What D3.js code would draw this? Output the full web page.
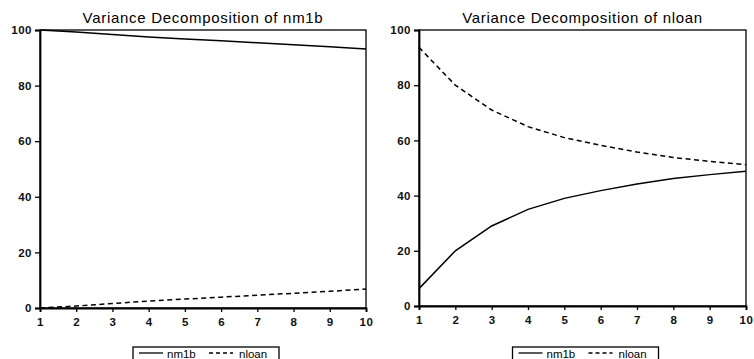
<!DOCTYPE html>
<html>
<head>
<meta charset="utf-8">
<script src="https://cdn.jsdelivr.net/npm/d3@7"></script>
<style>
  body { margin: 0; background: #fff; }
  svg { display: block; font-family: "Liberation Sans", Arial, sans-serif; }
</style>
</head>
<body>
<div id="chart"></div>
<script>
// forecast horizons
const periods = [1, 2, 3, 4, 5, 6, 7, 8, 9, 10];
const yTicks = [0, 20, 40, 60, 80, 100];
const seriesNames = ["nm1b", "nloan"];

// variance decomposition of nm1b
const nm1bByNm1b = [100, 99.3, 98.4, 97.5, 96.8, 96.1, 95.4, 94.7, 94.0, 93.2];
const nm1bByNloan = [0, 0.7, 1.6, 2.5, 3.2, 3.9, 4.6, 5.3, 6.0, 6.8];

// variance decomposition of nloan
const nloanByNm1b = [6.3, 20.0, 29.0, 35.0, 39.0, 41.8, 44.2, 46.2, 47.6, 48.8];
const nloanByNloan = [93.7, 80.0, 71.0, 65.0, 61.0, 58.2, 55.8, 53.8, 52.4, 51.2];

const panels = [
    { title: "Variance Decomposition of nm1b", left: 40, right: 366, top: 30, bottom: 308,
      series: [nm1bByNm1b, nm1bByNloan] },
    { title: "Variance Decomposition of nloan", left: 419, right: 746, top: 30, bottom: 306,
      series: [nloanByNm1b, nloanByNloan] }
];
const dashes = [null, "5,3.5"];

const svg = d3.select("#chart").append("svg")
    .attr("width", 754)
    .attr("height", 359);

panels.forEach(p => {
    const x = d3.scaleLinear().domain([1, 10]).range([p.left, p.right]);
    const y = d3.scaleLinear().domain([0, 100]).range([p.bottom, p.top]);
    const g = svg.append("g");

    // title
    g.append("text")
        .attr("x", (p.left + p.right) / 2)
        .attr("y", 23)
        .attr("text-anchor", "middle")
        .style("font-size", "15px")
        .style("letter-spacing", "0.7px")
        .text(p.title);

    // frame (top and right)
    g.append("rect")
        .attr("x", p.left).attr("y", p.top)
        .attr("width", p.right - p.left).attr("height", p.bottom - p.top)
        .attr("fill", "none").attr("stroke", "#000").attr("stroke-width", 1.3);

    // y axis
    const yAxis = g.append("g")
        .attr("transform", `translate(${p.left},0)`)
        .call(d3.axisLeft(y).tickValues(yTicks).tickSize(5).tickPadding(3));
    // x axis
    const xAxis = g.append("g")
        .attr("transform", `translate(0,${p.bottom})`)
        .call(d3.axisBottom(x).tickValues(periods).tickSize(4).tickPadding(6));

    [yAxis, xAxis].forEach(a => {
        a.select(".domain").attr("stroke-width", 1.8);
        a.selectAll(".tick line").attr("stroke-width", 1.3);
        a.selectAll("text")
            .style("font-size", "11.5px")
            .style("font-weight", "bold")
            .style("letter-spacing", "0.5px")
            .attr("fill", "#111")
            .style("font-family", "'Liberation Sans', Arial, sans-serif");
    });

    // lines
    const line = d3.line()
        .x((d, i) => x(periods[i]))
        .y(d => y(d));
    p.series.forEach((s, i) => {
        g.append("path")
            .datum(s)
            .attr("d", line)
            .attr("fill", "none")
            .attr("stroke", "#000")
            .attr("stroke-width", 1.5)
            .attr("stroke-dasharray", dashes[i]);
    });

    // legend
    const lw = 146;
    const lx = (p.left + p.right) / 2 - lw / 2 + 3;
    const ly = 347;
    const leg = g.append("g");
    leg.append("rect")
        .attr("x", lx).attr("y", ly)
        .attr("width", lw).attr("height", 20)
        .attr("fill", "#fff").attr("stroke", "#000").attr("stroke-width", 1.3);
    const items = [{ x0: lx + 6, tx: lx + 34 }, { x0: lx + 76, tx: lx + 106 }];
    seriesNames.forEach((name, i) => {
        leg.append("line")
            .attr("x1", items[i].x0).attr("x2", items[i].x0 + 24)
            .attr("y1", ly + 6).attr("y2", ly + 6)
            .attr("stroke", "#000").attr("stroke-width", 1.3)
            .attr("stroke-dasharray", dashes[i] ? "4,3" : null);
        leg.append("text")
            .attr("x", items[i].tx).attr("y", ly + 10.5)
            .style("font-size", "11.5px")
            .text(name);
    });
});
</script>
</body>
</html>
